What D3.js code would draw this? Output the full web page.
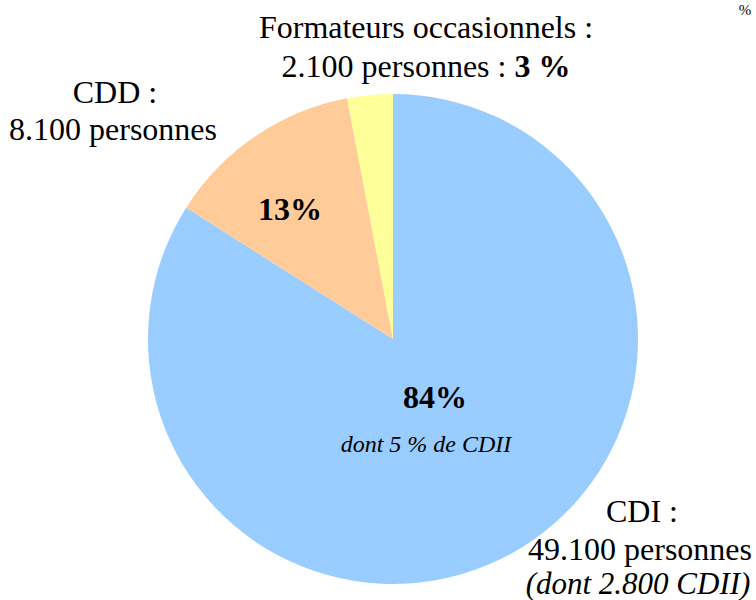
<!DOCTYPE html>
<html>
<head>
<meta charset="utf-8">
<script src="https://cdn.jsdelivr.net/npm/d3@7"></script>
</head>
<body style="margin:0;font-family:'Liberation Serif'">
<svg id="chart" width="756" height="600" style="display:block"></svg>
<script>
// Répartition des formateurs par type de contrat
const categories = ["CDI", "CDD", "Formateurs occasionnels"];
const shares = [84, 13, 3];
const headcounts = ["49.100", "8.100", "2.100"];
const colors = ["#99CCFF", "#FFCC99", "#FFFF99"];

const FONT = "Liberation Serif";
const svg = d3.select("#chart");
const cx = 393, cy = 339, radius = 245;

const pie = d3.pie().sort(null).value(d => d.share);
const arcs = pie(categories.map((c, i) => ({ cat: c, share: shares[i], color: colors[i] })));
const arc = d3.arc().innerRadius(0).outerRadius(radius);

const g = svg.append("g").attr("transform", `translate(${cx},${cy})`);
g.selectAll("path").data(arcs).join("path")
  .attr("d", arc)
  .attr("fill", d => d.data.color);

function label(parent, size) {
  return parent.append("text").style("font-family", FONT)
    .attr("text-anchor", "middle").attr("font-size", size);
}

// Pourcentages à l'intérieur des secteurs
label(g, 32).attr("x", 42).attr("y", 69).attr("font-weight", "bold").text(shares[0] + "%");
label(g, 24).attr("x", 33).attr("y", 113).attr("font-style", "italic").text("dont 5 % de CDII");
label(g, 32).attr("x", -103).attr("y", -119).attr("font-weight", "bold").text(shares[1] + "%");

// Étiquettes extérieures
const t1 = label(svg, 32);
t1.append("tspan").attr("x", 426).attr("y", 38).text(categories[2] + " :");
const l2 = t1.append("tspan").attr("x", 426).attr("y", 77);
l2.append("tspan").text(headcounts[2] + " personnes : ");
l2.append("tspan").attr("font-weight", "bold").text(shares[2] + " %");

const t2 = label(svg, 32);
t2.append("tspan").attr("x", 115).attr("y", 103).text(categories[1] + " :");
t2.append("tspan").attr("x", 113).attr("y", 140).text(headcounts[1] + " personnes");

const t3 = label(svg, 32);
t3.append("tspan").attr("x", 642).attr("y", 522).text(categories[0] + " :");
t3.append("tspan").attr("x", 640).attr("y", 560).text(headcounts[0] + " personnes");
t3.append("tspan").attr("x", 638).attr("y", 594).attr("font-style", "italic").attr("font-size", 31)
  .text("(dont 2.800 CDII)");

label(svg, 15).attr("x", 745).attr("y", 15).text("%");
</script>
</body>
</html>
